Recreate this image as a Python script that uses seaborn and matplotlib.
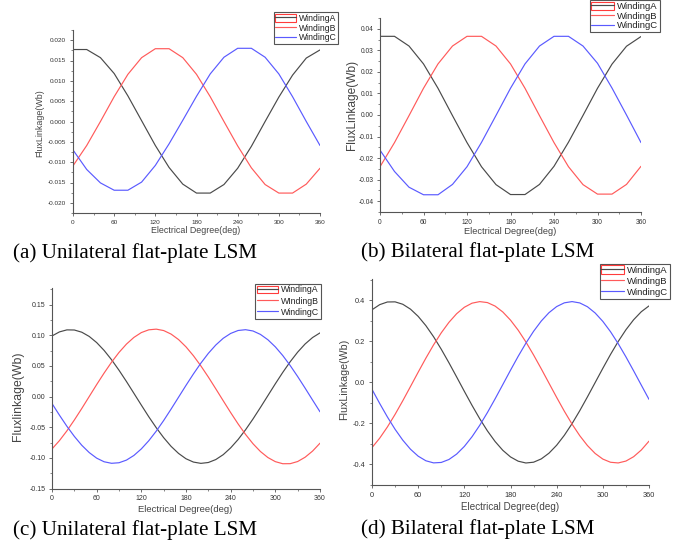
import matplotlib
matplotlib.use("Agg")
import matplotlib.pyplot as plt
import pandas as pd
import seaborn as sns
from matplotlib.lines import Line2D
from matplotlib.patches import Rectangle
from matplotlib.legend_handler import HandlerTuple
from matplotlib.ticker import MultipleLocator, FuncFormatter

# ---------------- data ----------------
deg20 = [0, 20, 40, 60, 80, 100, 120, 140, 160, 180, 200, 220, 240, 260, 280, 300, 320, 340, 360]
deg10 = list(range(0, 361, 10))

a_windA = [0.0177, 0.0177, 0.0157, 0.0118, 0.0063, 0.0002, -0.0059, -0.0113, -0.0154, -0.0176,
           -0.0176, -0.0155, -0.0115, -0.0061, 0.0000, 0.0060, 0.0114, 0.0156, 0.0176]
a_windB = [-0.0109, -0.0059, 0.0000, 0.0061, 0.0116, 0.0157, 0.0179, 0.0179, 0.0157, 0.0116,
           0.0061, 0.0000, -0.0060, -0.0114, -0.0155, -0.0176, -0.0176, -0.0154, -0.0115]
a_windC = [-0.0070, -0.0118, -0.0151, -0.0169, -0.0169, -0.0149, -0.0108, -0.0055, 0.0003, 0.0062,
           0.0117, 0.0158, 0.0180, 0.0180, 0.0158, 0.0117, 0.0061, 0.0000, -0.0059]

b_windA = [0.0365, 0.0365, 0.0320, 0.0237, 0.0124, -0.0003, -0.0128, -0.0240, -0.0323, -0.0369,
           -0.0369, -0.0322, -0.0238, -0.0126, -0.0002, 0.0124, 0.0236, 0.0319, 0.0364]
b_windB = [-0.0240, -0.0128, -0.0003, 0.0124, 0.0237, 0.0320, 0.0365, 0.0365, 0.0320, 0.0237,
           0.0124, -0.0003, -0.0128, -0.0240, -0.0323, -0.0367, -0.0367, -0.0322, -0.0238]
b_windC = [-0.0163, -0.0262, -0.0335, -0.0370, -0.0370, -0.0322, -0.0240, -0.0127, -0.0002, 0.0124,
           0.0237, 0.0320, 0.0365, 0.0365, 0.0320, 0.0240, 0.0125, 0.0000, -0.0128]

c_windA = [0.0988, 0.1054, 0.1087, 0.1085, 0.1049, 0.0980, 0.0880, 0.0752, 0.0600, 0.0429,
           0.0245, 0.0053, -0.0140, -0.0330, -0.0508, -0.0671, -0.0813, -0.0928, -0.1015, -0.1069,
           -0.1090, -0.1076, -0.1028, -0.0948, -0.0837, -0.0701, -0.0542, -0.0366, -0.0178, 0.0015,
           0.0208, 0.0394, 0.0568, 0.0724, 0.0857, 0.0962, 0.1038]
c_windB = [-0.0855, -0.0719, -0.0560, -0.0383, -0.0195, 0.0000, 0.0195, 0.0383, 0.0560, 0.0719,
           0.0855, 0.0964, 0.1043, 0.1088, 0.1099, 0.1076, 0.1018, 0.0929, 0.0810, 0.0665,
           0.0499, 0.0318, 0.0126, -0.0069, -0.0262, -0.0447, -0.0618, -0.0770, -0.0897, -0.0995,
           -0.1062, -0.1096, -0.1095, -0.1060, -0.0990, -0.0890, -0.0761]
c_windC = [-0.0114, -0.0304, -0.0485, -0.0650, -0.0795, -0.0914, -0.1005, -0.1064, -0.1089, -0.1080,
           -0.1037, -0.0961, -0.0854, -0.0721, -0.0565, -0.0391, -0.0204, -0.0011, 0.0182, 0.0369,
           0.0545, 0.0704, 0.0840, 0.0950, 0.1029, 0.1077, 0.1090, 0.1069, 0.1013, 0.0926,
           0.0810, 0.0668, 0.0505, 0.0326, 0.0137, -0.0057, -0.0249]

d_windA = [0.3532, 0.3781, 0.3911, 0.3917, 0.3800, 0.3562, 0.3211, 0.2760, 0.2220, 0.1611,
           0.0951, 0.0261, -0.0438, -0.1123, -0.1772, -0.2365, -0.2883, -0.3311, -0.3633, -0.3841,
           -0.3928, -0.3890, -0.3729, -0.3451, -0.3063, -0.2578, -0.2012, -0.1383, -0.0709, -0.0014,
           0.0682, 0.1357, 0.1989, 0.2558, 0.3045, 0.3437, 0.3720]
d_windB = [-0.3179, -0.2720, -0.2175, -0.1561, -0.0898, -0.0206, 0.0492, 0.1175, 0.1821, 0.2409,
           0.2920, 0.3340, 0.3654, 0.3853, 0.3929, 0.3882, 0.3711, 0.3424, 0.3028, 0.2537,
           0.1965, 0.1331, 0.0656, -0.0041, -0.0736, -0.1409, -0.2036, -0.2599, -0.3080, -0.3464,
           -0.3738, -0.3893, -0.3926, -0.3835, -0.3623, -0.3296, -0.2865]
d_windC = [-0.0343, -0.1030, -0.1686, -0.2288, -0.2817, -0.3258, -0.3596, -0.3820, -0.3923, -0.3902,
           -0.3758, -0.3495, -0.3122, -0.2650, -0.2094, -0.1472, -0.0804, -0.0110, 0.0588, 0.1267,
           0.1905, 0.2484, 0.2984, 0.3390, 0.3688, 0.3870, 0.3930, 0.3865, 0.3679, 0.3376,
           0.2966, 0.2463, 0.1881, 0.1240, 0.0560, -0.0137, -0.0830]

x_label = "Electrical Degree(deg)"
y_labels = ["FluxLinkage(Wb)", "FluxLinkage(Wb)", "Fluxlinkage(Wb)", "FluxLinkage(Wb)"]
legend_labels = [["WindingA", "WindingB", "WindingC"],
                 ["WindingA", "WindingB", "WindingC"],
                 ["WindingA", "WIndingB", "WindingC"],
                 ["WindingA", "WindingB", "WindingC"]]
captions = ["(a) Unilateral flat-plate LSM", "(b) Bilateral flat-plate LSM",
            "(c) Unilateral flat-plate LSM", "(d) Bilateral flat-plate LSM"]

# ---------------- style ----------------
sns.set_style("ticks")
plt.rcParams['font.family'] = ['Liberation Sans', 'DejaVu Sans']
plt.rcParams['axes.unicode_minus'] = False

colA, colB, colC = "#4a4a4a", "#ff5a5a", "#5a5aff"
palette = {"A": colA, "B": colB, "C": colC}
spine_col = "#555555"

W, H = 688.0, 544.0


def rect(l, r, t, b):
    return [l / W, 1 - b / H, (r - l) / W, (b - t) / H]


panels = [
    dict(x=deg20, A=a_windA, B=a_windB, C=a_windC, rect=rect(73, 320, 30, 213),
         ylim=(-0.0225, 0.0225), ymaj=0.005, dec=3, tfs=4.6, xfs=6.4, yfs=6.4,
         xlab=(0.498, -0.098), ylab=(-0.134, 0.489),
         leg_loc="upper right", leg_anchor=(338, 12), lfs=6.2, lsp=0.1,
         cap=(13, 258.3)),
    dict(x=deg20, A=b_windA, B=b_windB, C=b_windC, rect=rect(380, 641, 18, 212),
         ylim=(-0.045, 0.045), ymaj=0.01, dec=2, tfs=4.8, xfs=6.7, yfs=8.6,
         xlab=(0.499, -0.098), ylab=(-0.108, 0.552),
         leg_loc="lower right", leg_anchor=(660, 32.3), lfs=6.8, lsp=0.02,
         cap=(360.7, 256.7)),
    dict(x=deg10, A=c_windA, B=c_windB, C=c_windC, rect=rect(52, 320, 288, 488.5),
         ylim=(-0.15, 0.177), ymaj=0.05, dec=2, tfs=5.0, xfs=6.8, yfs=8.8,
         xlab=(0.498, -0.106), ylab=(-0.126, 0.460),
         leg_loc="upper right", leg_anchor=(320.7, 283.7), lfs=6.3, lsp=0.25,
         cap=(13.3, 535.3)),
    dict(x=deg10, A=d_windA, B=d_windB, C=d_windC, rect=rect(372, 649, 279, 485),
         ylim=(-0.5, 0.503), ymaj=0.2, dec=1, tfs=5.3, xfs=7.1, yfs=7.7,
         xlab=(0.499, -0.108), ylab=(-0.099, 0.512),
         leg_loc="lower right", leg_anchor=(670, 298.7), lfs=6.8, lsp=0.16,
         cap=(360.7, 533.7)),
]

fig = plt.figure(figsize=(6.88, 5.44), dpi=100)

for i, p in enumerate(panels):
    ax = fig.add_axes(p["rect"])
    n = len(p["x"])
    df = pd.DataFrame({
        "deg": list(p["x"]) * 3,
        "flux": list(p["A"]) + list(p["B"]) + list(p["C"]),
        "winding": ["A"] * n + ["B"] * n + ["C"] * n,
    })
    sns.lineplot(data=df, x="deg", y="flux", hue="winding", palette=palette,
                 linewidth=0.85, ax=ax, legend=False, estimator=None, sort=False)

    ax.set_xlim(0, 360)
    ax.set_ylim(*p["ylim"])
    ax.xaxis.set_major_locator(MultipleLocator(60))
    ax.xaxis.set_minor_locator(MultipleLocator(30))
    ax.yaxis.set_major_locator(MultipleLocator(p["ymaj"]))
    ax.yaxis.set_minor_locator(MultipleLocator(p["ymaj"] / 2))
    dec = p["dec"]
    ax.yaxis.set_major_formatter(FuncFormatter(
        lambda v, pos, d=dec: f"{0.0 if abs(v) < 1e-9 else v:.{d}f}"))

    sns.despine(ax=ax)
    for s in ("left", "bottom"):
        ax.spines[s].set_color(spine_col)
        ax.spines[s].set_linewidth(0.8)
    ax.tick_params(which="major", direction="out", length=2.2, width=0.6,
                   color=spine_col, labelsize=p["tfs"], labelcolor="#333333", pad=2.6)
    ax.tick_params(which="minor", direction="out", length=1.3, width=0.5, color=spine_col)

    ax.set_xlabel(x_label, fontsize=p["xfs"], color="#444444")
    ax.xaxis.set_label_coords(*p["xlab"])
    ax.xaxis.label.set_va("center")
    ax.set_ylabel(y_labels[i], fontsize=p["yfs"], color="#444444")
    ax.yaxis.set_label_coords(*p["ylab"])
    ax.yaxis.label.set_va("center")
    ax.yaxis.label.set_ha("center")

    handles = [
        (Rectangle((0, 0), 1, 1, facecolor="none", edgecolor="#ff3b3b", linewidth=0.8),
         Line2D([], [], color=colA, lw=0.85)),
        Line2D([], [], color=colB, lw=0.85),
        Line2D([], [], color=colC, lw=0.85),
    ]
    ax_, ay_ = p["leg_anchor"]
    leg = ax.legend(handles, legend_labels[i],
                    handler_map={tuple: HandlerTuple(ndivide=1, pad=0)},
                    loc=p["leg_loc"], bbox_to_anchor=(ax_ / W, 1 - ay_ / H),
                    bbox_transform=fig.transFigure, fontsize=p["lfs"],
                    frameon=True, fancybox=False, edgecolor="#555555", framealpha=1,
                    borderpad=0.2, labelspacing=p["lsp"], handlelength=2.4,
                    handleheight=1.0, handletextpad=0.3, borderaxespad=0)
    leg.get_frame().set_linewidth(0.8)
    for t in leg.get_texts():
        t.set_color("#222222")

    cx, cy = p["cap"]
    fig.text(cx / W, 1 - cy / H, captions[i], fontsize=15.2,
             family=["Liberation Serif", "DejaVu Serif"], va="baseline", ha="left",
             color="black")

fig.savefig("out.png", dpi=100)
